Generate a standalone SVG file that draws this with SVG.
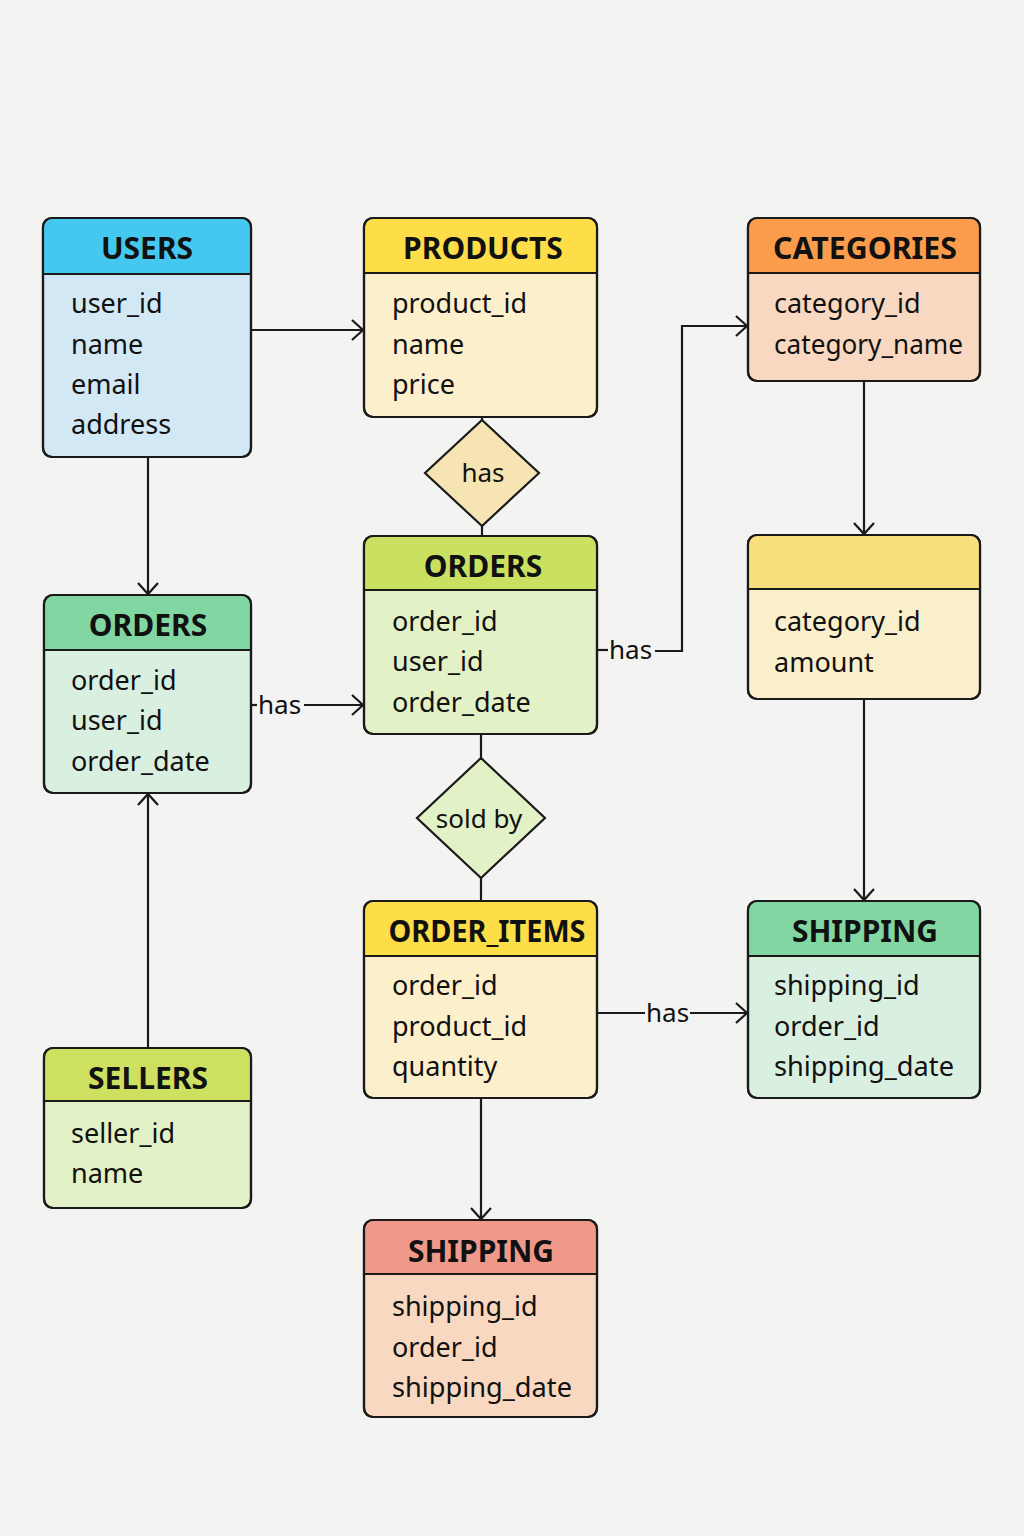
<svg xmlns="http://www.w3.org/2000/svg" width="1024" height="1536" viewBox="0 0 1024 1536">
<defs>
<style>
.box{stroke:#1a1a1a;stroke-width:2.2}
.div{stroke:#1a1a1a;stroke-width:2}
.h{font-family:"Noto Sans","Open Sans",sans-serif;font-weight:bold;font-size:30px;fill:#111;text-anchor:middle}
.t{font-family:"Noto Sans","Open Sans",sans-serif;font-size:27px;fill:#111}
.lbl{font-family:"Noto Sans","Open Sans",sans-serif;font-size:26px;fill:#111}
.c{fill:none;stroke:#1a1a1a;stroke-width:2.2}
</style>
<marker id="arr" viewBox="0 0 24 24" refX="21" refY="12" markerWidth="24" markerHeight="24" markerUnits="userSpaceOnUse" orient="auto">
<path d="M10,2 L21,12 L10,22" fill="none" stroke="#1a1a1a" stroke-width="2.2"/>
</marker>
</defs>
<rect width="1024" height="1536" fill="#f3f3f2"/>

<g id="connectors">
<path class="c" d="M251,330 H363" marker-end="url(#arr)"/>
<path class="c" d="M148,457 V594" marker-end="url(#arr)"/>
<path class="c" d="M251,705 H257"/>
<path class="c" d="M304,705 H363" marker-end="url(#arr)"/>
<text class="lbl" x="258" y="714">has</text>
<path class="c" d="M148,1048 V794" marker-end="url(#arr)"/>
<path class="c" d="M482,417 V421"/>
<path class="c" d="M482,526 V536"/>
<path class="c" d="M597,650 H608"/>
<path class="c" d="M655,651 H682 V326 H747" marker-end="url(#arr)"/>
<text class="lbl" x="609" y="659">has</text>
<path class="c" d="M864,381 V534" marker-end="url(#arr)"/>
<path class="c" d="M864,699 V900" marker-end="url(#arr)"/>
<path class="c" d="M481,734 V758"/>
<path class="c" d="M481,878 V901"/>
<path class="c" d="M597,1013 H645"/>
<path class="c" d="M690,1013 H747" marker-end="url(#arr)"/>
<text class="lbl" x="646" y="1022">has</text>
<path class="c" d="M481,1098 V1219" marker-end="url(#arr)"/>
</g>

<g id="rel-has">
<polygon class="box" points="482,420 539,473 482,526 425,473" fill="#f6e4b2"/>
<text class="lbl" x="483" y="482" text-anchor="middle">has</text>
</g>
<g id="rel-soldby">
<polygon class="box" points="481,758 545,818 481,878 417,818" fill="#e3f2c6"/>
<text class="lbl" x="479" y="828" text-anchor="middle">sold by</text>
</g>

<g id="users">
<rect class="box" x="43" y="218" width="208" height="239" rx="9" fill="#d3e8f5"/>
<path d="M52,219 H242 A8,8 0 0 1 250,227 V274 H44 V227 A8,8 0 0 1 52,219 Z" fill="#45c8f0"/>
<line class="div" x1="44" y1="274" x2="250" y2="274"/>
<rect x="43" y="218" width="208" height="239" rx="9" fill="none" class="box"/>
<text class="h" x="147" y="259">USERS</text>
<text class="t" x="71" y="313">user_id</text>
<text class="t" x="71" y="354">name</text>
<text class="t" x="71" y="394">email</text>
<text class="t" x="71" y="434">address</text>
</g>

<g id="products">
<rect class="box" x="364" y="218" width="233" height="199" rx="9" fill="#fcefcb"/>
<path d="M373,219 H588 A8,8 0 0 1 596,227 V273 H365 V227 A8,8 0 0 1 373,219 Z" fill="#fddd48"/>
<line class="div" x1="365" y1="273" x2="596" y2="273"/>
<rect x="364" y="218" width="233" height="199" rx="9" fill="none" class="box"/>
<text class="h" x="483" y="259">PRODUCTS</text>
<text class="t" x="392" y="313">product_id</text>
<text class="t" x="392" y="354">name</text>
<text class="t" x="392" y="394">price</text>
</g>

<g id="categories">
<rect class="box" x="748" y="218" width="232" height="163" rx="9" fill="#f8d8c0"/>
<path d="M757,219 H971 A8,8 0 0 1 979,227 V273 H749 V227 A8,8 0 0 1 757,219 Z" fill="#fb9c4c"/>
<line class="div" x1="749" y1="273" x2="979" y2="273"/>
<rect x="748" y="218" width="232" height="163" rx="9" fill="none" class="box"/>
<text class="h" x="865" y="259" textLength="184" lengthAdjust="spacingAndGlyphs">CATEGORIES</text>
<text class="t" x="774" y="313">category_id</text>
<text class="t" x="774" y="354" textLength="189" lengthAdjust="spacingAndGlyphs">category_name</text>
</g>

<g id="unnamed">
<rect class="box" x="748" y="535" width="232" height="164" rx="9" fill="#faefcb"/>
<path d="M757,536 H971 A8,8 0 0 1 979,544 V589 H749 V544 A8,8 0 0 1 757,536 Z" fill="#f7df7e"/>
<line class="div" x1="749" y1="589" x2="979" y2="589"/>
<rect x="748" y="535" width="232" height="164" rx="9" fill="none" class="box"/>
<text class="t" x="774" y="631">category_id</text>
<text class="t" x="774" y="672">amount</text>
</g>

<g id="orders-left">
<rect class="box" x="44" y="595" width="207" height="198" rx="9" fill="#d9efe0"/>
<path d="M53,596 H242 A8,8 0 0 1 250,604 V650 H45 V604 A8,8 0 0 1 53,596 Z" fill="#82d6a2"/>
<line class="div" x1="45" y1="650" x2="250" y2="650"/>
<rect x="44" y="595" width="207" height="198" rx="9" fill="none" class="box"/>
<text class="h" x="148" y="636">ORDERS</text>
<text class="t" x="71" y="690">order_id</text>
<text class="t" x="71" y="730">user_id</text>
<text class="t" x="71" y="771">order_date</text>
</g>

<g id="orders-center">
<rect class="box" x="364" y="536" width="233" height="198" rx="9" fill="#e3f2c6"/>
<path d="M373,537 H588 A8,8 0 0 1 596,545 V590 H365 V545 A8,8 0 0 1 373,537 Z" fill="#c9e061"/>
<line class="div" x1="365" y1="590" x2="596" y2="590"/>
<rect x="364" y="536" width="233" height="198" rx="9" fill="none" class="box"/>
<text class="h" x="483" y="577">ORDERS</text>
<text class="t" x="392" y="631">order_id</text>
<text class="t" x="392" y="671">user_id</text>
<text class="t" x="392" y="712">order_date</text>
</g>

<g id="order-items">
<rect class="box" x="364" y="901" width="233" height="197" rx="9" fill="#fcefcb"/>
<path d="M373,902 H588 A8,8 0 0 1 596,910 V956 H365 V910 A8,8 0 0 1 373,902 Z" fill="#fddd48"/>
<line class="div" x1="365" y1="956" x2="596" y2="956"/>
<rect x="364" y="901" width="233" height="197" rx="9" fill="none" class="box"/>
<text class="h" x="487" y="942" textLength="197" lengthAdjust="spacingAndGlyphs">ORDER_ITEMS</text>
<text class="t" x="392" y="995">order_id</text>
<text class="t" x="392" y="1036">product_id</text>
<text class="t" x="392" y="1076">quantity</text>
</g>

<g id="shipping-right">
<rect class="box" x="748" y="901" width="232" height="197" rx="9" fill="#d9efe0"/>
<path d="M757,902 H971 A8,8 0 0 1 979,910 V956 H749 V910 A8,8 0 0 1 757,902 Z" fill="#82d6a2"/>
<line class="div" x1="749" y1="956" x2="979" y2="956"/>
<rect x="748" y="901" width="232" height="197" rx="9" fill="none" class="box"/>
<text class="h" x="865" y="942">SHIPPING</text>
<text class="t" x="774" y="995">shipping_id</text>
<text class="t" x="774" y="1036">order_id</text>
<text class="t" x="774" y="1076" textLength="180" lengthAdjust="spacingAndGlyphs">shipping_date</text>
</g>

<g id="sellers">
<rect class="box" x="44" y="1048" width="207" height="160" rx="9" fill="#e3f2c6"/>
<path d="M53,1049 H242 A8,8 0 0 1 250,1057 V1101 H45 V1057 A8,8 0 0 1 53,1049 Z" fill="#cde060"/>
<line class="div" x1="45" y1="1101" x2="250" y2="1101"/>
<rect x="44" y="1048" width="207" height="160" rx="9" fill="none" class="box"/>
<text class="h" x="148" y="1089">SELLERS</text>
<text class="t" x="71" y="1143">seller_id</text>
<text class="t" x="71" y="1183">name</text>
</g>

<g id="shipping-bottom">
<rect class="box" x="364" y="1220" width="233" height="197" rx="9" fill="#f8d8c0"/>
<path d="M373,1221 H588 A8,8 0 0 1 596,1229 V1274 H365 V1229 A8,8 0 0 1 373,1221 Z" fill="#f0998a"/>
<line class="div" x1="365" y1="1274" x2="596" y2="1274"/>
<rect x="364" y="1220" width="233" height="197" rx="9" fill="none" class="box"/>
<text class="h" x="481" y="1262">SHIPPING</text>
<text class="t" x="392" y="1316">shipping_id</text>
<text class="t" x="392" y="1357">order_id</text>
<text class="t" x="392" y="1397" textLength="180" lengthAdjust="spacingAndGlyphs">shipping_date</text>
</g>
</svg>
